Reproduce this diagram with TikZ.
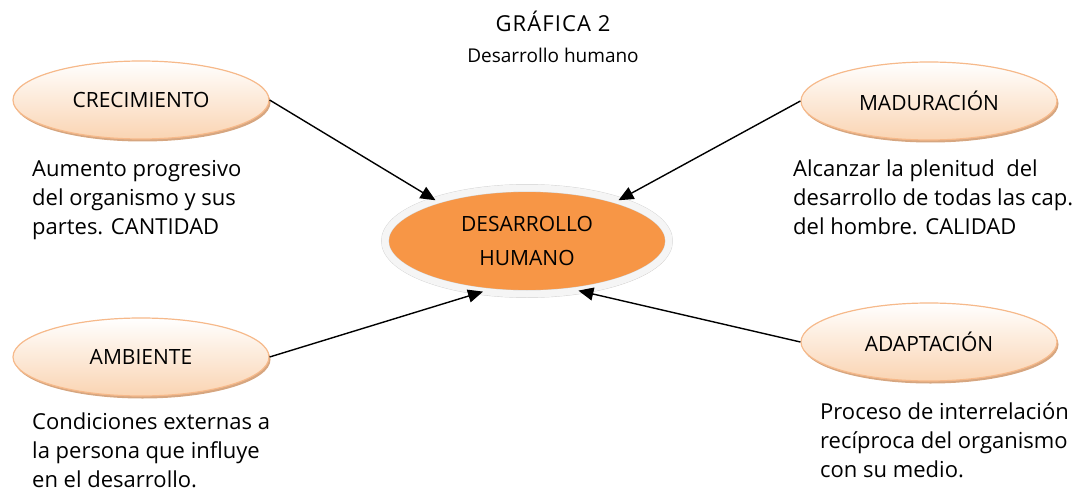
\documentclass[tikz,border=0pt]{standalone}
\usepackage{fontspec}
\setmainfont{Open Sans}
\usetikzlibrary{shapes.geometric,shadows,arrows.meta}
\definecolor{peachEdge}{RGB}{246,185,138}
\definecolor{peachFill}{RGB}{250,212,178}
\definecolor{peachShadow}{RGB}{214,166,128}
\definecolor{darkOrange}{RGB}{247,150,70}

\tikzset{
  tema/.style={ellipse, minimum width=256pt, minimum height=78pt, inner sep=0pt,
    draw=peachEdge, line width=1.2pt, top color=white, bottom color=peachFill,
    drop shadow={shadow xshift=1.5pt, shadow yshift=-2.5pt, fill=peachShadow, opacity=1},
    font=\fontsize{21}{25}\selectfont},
  centro/.style={ellipse, minimum width=284pt, minimum height=106pt, inner sep=0pt,
    fill=darkOrange, draw=gray!35, double=gray!8, double distance=7pt,
    drop shadow={shadow xshift=2pt, shadow yshift=-3pt, fill=peachShadow, opacity=1},
    align=center, font=\fontsize{21}{34}\selectfont},
  nota/.style={anchor=base west, align=left, inner sep=0pt,
    font=\fontsize{22}{29}\selectfont},
  flecha/.style={-{Triangle[length=15pt,width=13pt]}, line width=1.4pt}
}

\begin{document}
\begin{tikzpicture}[x=1pt, y=-1pt]
  \useasboundingbox (0,0) rectangle (1092,492);
  % titulo
  \node[anchor=base, font=\fontsize{22}{24}\selectfont\addfontfeatures{LetterSpace=5}] (titulo) at (553,32) {GRÁFICA 2};
  \node[anchor=base, font=\fontsize{19}{24}\selectfont] (subtitulo) at (553,63) {Desarrollo humano};

  % elipses
  \node[centro] (desarrollo) at (527,241) {DESARROLLO\\HUMANO};
  \node[tema] (crecimiento) at (141,100) {CRECIMIENTO};
  \node[tema] (maduracion) at (929,101) {MADURACIÓN};
  \node[tema] (ambiente) at (141,357) {AMBIENTE};
  \node[tema] (adaptacion) at (929,342) {ADAPTACIÓN};

  % textos (base = ultima linea)
  \node[nota] (txtcrec) at (32,234) {Aumento progresivo\\del organismo y sus\\partes. CANTIDAD};
  \node[nota] (txtmad) at (793,234) {Alcanzar la plenitud~ del\\desarrollo de todas las cap.\\del hombre. CALIDAD};
  \node[nota] (txtamb) at (32,487) {Condiciones externas a\\la persona que influye\\en el desarrollo.};
  \node[nota] (txtadap) at (820,477) {Proceso de interrelación\\recíproca del organismo\\con su medio.};

  % flechas
  \draw[flecha] (crecimiento.east) -- (desarrollo.156);
  \draw[flecha] (maduracion.west) -- (desarrollo.24);
  \draw[flecha] (ambiente.east) -- (desarrollo.229);
  \draw[flecha] (adaptacion.west) -- (desarrollo.316);
\end{tikzpicture}
\end{document}
